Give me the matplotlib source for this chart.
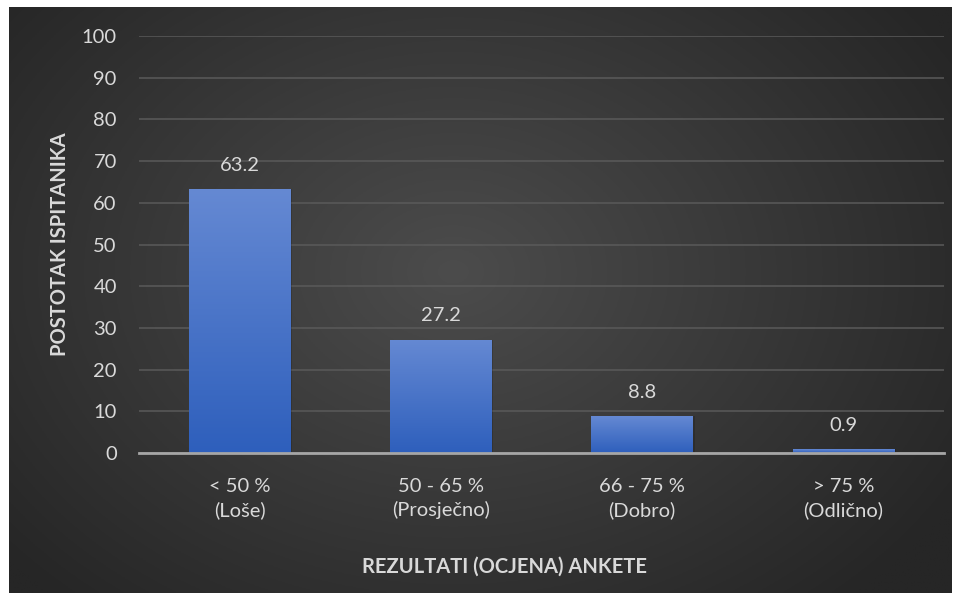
import numpy as np
import matplotlib
matplotlib.use("Agg")
import matplotlib.pyplot as plt
from matplotlib.colors import LinearSegmentedColormap

categories = ["< 50 %\n(Loše)", "50 - 65 %\n(Prosječno)", "66 - 75 %\n(Dobro)", "> 75 %\n(Odlično)"]
values = [63.2, 27.2, 8.8, 0.9]
labels = ["63.2", "27.2", "8.8", "0.9"]
yticks = list(range(0, 101, 10))

plt.rcParams['font.family'] = ['Lato', 'DejaVu Sans']
txt = '#d9d9d9'

fig = plt.figure(figsize=(9.6, 5.93), dpi=100)
fig.patch.set_facecolor('white')

# radial gradient background panel
bg = fig.add_axes([9/960, 0, (952-9)/960, (593-7)/593])
bg.set_axis_off()
W, H = 400, 250
yy, xx = np.mgrid[0:H, 0:W]
cx, cy = W*0.47, H*0.45
r = np.sqrt(((xx-cx)/(W*0.62))**2 + ((yy-cy)/(H*0.75))**2)
r = np.clip(r, 0, 1)
c_in = np.array([0x4c, 0x4c, 0x4c])/255
c_out = np.array([0x26, 0x26, 0x26])/255
img = c_in[None, None, :]*(1-r[..., None]) + c_out[None, None, :]*r[..., None]
bg.imshow(img, aspect='auto', extent=[0, 1, 0, 1])
bg.set_xlim(0, 1); bg.set_ylim(0, 1)

ax = fig.add_axes([139/960, 140/593, 805/960, 417/593])
ax.patch.set_alpha(0)
x = np.arange(len(categories))
bars = ax.bar(x, values, width=0.505, color='#4472c4', zorder=3)
cmap = LinearSegmentedColormap.from_list('b', ['#2e5fbc', '#6589d3'])
grad = np.linspace(0, 1, 256).reshape(-1, 1)
for b in bars:
    x0, y0 = b.get_x(), b.get_y()
    w, h = b.get_width(), b.get_height()
    sh = plt.Rectangle((x0+0.008, y0), w, h, color='black', alpha=0.15, zorder=2.5, lw=0)
    ax.add_patch(sh)
    im = ax.imshow(grad, cmap=cmap, aspect='auto', extent=[x0, x0+w, y0, y0+h],
                   origin='lower', zorder=3.5)
    im.set_clip_path(b)
for xi, v, lab in zip(x, values, labels):
    ax.annotate(lab, (xi, v), xytext=(0, 11), textcoords='offset points',
                ha='center', va='bottom', color=txt, fontsize=14.5)

ax.set_xlim(-0.5, len(categories)-0.5)
ax.set_ylim(0, 100)
ax.set_yticks(yticks)
ax.set_xticks(x)
ax.set_xticklabels(categories, fontsize=14.5, color=txt, linespacing=1.4)
ax.tick_params(axis='y', labelsize=14.5, labelcolor=txt, length=0, pad=16)
ax.tick_params(axis='x', length=0, pad=18)
ax.grid(axis='y', color='#5a5a5a', lw=1.1, zorder=0)
ax.set_axisbelow(True)
for s in ['top', 'right', 'left']:
    ax.spines[s].set_visible(False)
ax.spines['bottom'].set_color('#a6a6a6')
ax.spines['bottom'].set_linewidth(2)
ax.spines['bottom'].set_zorder(4)
ax.set_ylabel('POSTOTAK ISPITANIKA', fontsize=14.5, fontweight='bold', color=txt)
ax.set_xlabel('REZULTATI (OCJENA) ANKETE', fontsize=14.5, fontweight='bold', color=txt)
ax.xaxis.set_label_coords((505-139)/805, -(557-453)/417)
ax.yaxis.set_label_coords((70-139)/805, 0.5)

fig.savefig('out.png', dpi=100, facecolor='white')
